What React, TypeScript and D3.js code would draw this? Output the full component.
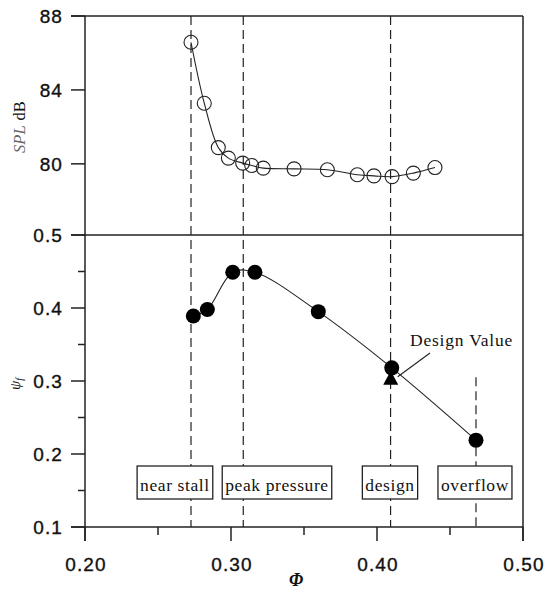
import React, { useLayoutEffect, useRef, useState } from "react";
import { scaleLinear, line, curveCatmullRom } from "d3";

// flow coefficient Φ and sound pressure level (upper panel)
const splPhi = [0.2726, 0.2817, 0.2913, 0.2982, 0.308, 0.3142, 0.3221, 0.3432, 0.366, 0.3865, 0.3979, 0.4103, 0.4249, 0.4397];
const splDb = [86.58, 83.28, 80.88, 80.31, 80.04, 79.91, 79.77, 79.73, 79.68, 79.41, 79.35, 79.31, 79.5, 79.8];

// pressure coefficient ψf (lower panel)
const psiPhi = [0.2742, 0.2838, 0.3012, 0.3164, 0.3598, 0.4101, 0.4678];
const psiVal = [0.389, 0.398, 0.449, 0.449, 0.395, 0.318, 0.219];

const designPhi = 0.4094;
const designPsi = 0.303;

// operating regimes
const regimeNames = ["near stall", "peak pressure", "design", "overflow"];
const regimePhi = [0.2726, 0.3084, 0.4093, 0.4678];
const regimeLabelPhi = [0.2616, 0.3315, 0.4089, 0.4671];
const overflowTopPsi = 0.305;

const phiTicks = [0.2, 0.3, 0.4, 0.5];
const phiMinor = [0.25, 0.35, 0.45];
const splTicks = [88, 84, 80];
const psiTicks = [0.5, 0.4, 0.3, 0.2, 0.1];
const psiMinor = [0.45, 0.35, 0.25, 0.15];

const sans = "'Liberation Sans', Arial, sans-serif";
const serif = "'Liberation Serif', 'Times New Roman', serif";
const ink = "#222";

const LabelBox = ({ x, label }: { x: number; label: string }) => {
  const ref = useRef<SVGTextElement>(null);
  const [w, setW] = useState(60);
  useLayoutEffect(() => {
    if (ref.current) setW(ref.current.getComputedTextLength());
  }, [label]);
  const pad = 3;
  return (
    <g>
      <rect x={x - w / 2 - pad} y={466} width={w + pad * 2} height={33} fill="#fff" stroke={ink} strokeWidth={1.3} />
      <text ref={ref} x={x} y={491} textAnchor="middle" fontFamily={serif} fontSize={17.5} letterSpacing={0.6} fill="#111">
        {label}
      </text>
    </g>
  );
};

export default function App() {
  const left = 85, right = 523, top = 16, mid = 235, bottom = 527;
  const x = scaleLinear().domain([0.2, 0.5]).range([left, right]);
  const ySpl = scaleLinear().domain([76.15, 88]).range([mid, top]);
  const yPsi = scaleLinear().domain([0.1, 0.5]).range([bottom, mid]);

  const splLine = line<number>()
    .x((d, i) => x(splPhi[i]))
    .y((d) => ySpl(d))
    .curve(curveCatmullRom);
  const psiLine = line<number>()
    .x((d, i) => x(psiPhi[i]))
    .y((d) => yPsi(d))
    .curve(curveCatmullRom);

  const dx = x(designPhi), dy = yPsi(designPsi);
  const tickText = { fontFamily: sans, fontSize: 19, letterSpacing: 1.1, fill: "#111", stroke: "#111", strokeWidth: 0.35 };

  return (
    <svg width={545} height={591} style={{ position: "absolute", left: 0, top: 0, background: "#fff" }}>
      {/* regime dashed lines */}
      {regimePhi.map((p, i) => (
        <line
          key={"r" + i}
          x1={x(p)}
          x2={x(p)}
          y1={i === 3 ? yPsi(overflowTopPsi) : top}
          y2={bottom}
          stroke={ink}
          strokeWidth={1.2}
          strokeDasharray="9,5"
        />
      ))}

      {/* frame */}
      <g stroke={ink} strokeWidth={1.5} fill="none">
        <line x1={71} x2={right} y1={top} y2={top} />
        <line x1={71} x2={right} y1={mid} y2={mid} />
        <line x1={71} x2={right} y1={bottom} y2={bottom} />
        <line x1={left} x2={left} y1={top} y2={541} />
        <line x1={right} x2={right} y1={top} y2={541} />
      </g>

      {/* y ticks */}
      {splTicks.map((t) => (
        <g key={"s" + t}>
          <line x1={71} x2={left} y1={ySpl(t)} y2={ySpl(t)} stroke={ink} strokeWidth={1.5} />
          <text x={63} y={ySpl(t)} dy="0.36em" textAnchor="end" {...tickText}>
            {t}
          </text>
        </g>
      ))}
      {psiTicks.map((t) => (
        <g key={"p" + t}>
          <line x1={71} x2={left} y1={yPsi(t)} y2={yPsi(t)} stroke={ink} strokeWidth={1.5} />
          <text x={63} y={yPsi(t)} dy="0.36em" textAnchor="end" {...tickText}>
            {t.toFixed(1)}
          </text>
        </g>
      ))}
      {psiMinor.map((t) => (
        <line key={"pm" + t} x1={78} x2={left} y1={yPsi(t)} y2={yPsi(t)} stroke={ink} strokeWidth={1.5} />
      ))}

      {/* x ticks */}
      {phiTicks.map((t) => (
        <g key={"x" + t}>
          <line x1={x(t)} x2={x(t)} y1={bottom} y2={541} stroke={ink} strokeWidth={1.5} />
          <text x={x(t) + 1} y={571} textAnchor="middle" {...tickText}>
            {t.toFixed(2)}
          </text>
        </g>
      ))}
      {phiMinor.map((t) => (
        <line key={"xm" + t} x1={x(t)} x2={x(t)} y1={bottom} y2={535} stroke={ink} strokeWidth={1.5} />
      ))}

      {/* axis titles */}
      <text transform="translate(25,127) rotate(-90)" textAnchor="middle" fontFamily={serif} fontSize={16.5} fill="#111">
        <tspan fontStyle="italic" fill="#666">SPL</tspan>
        <tspan dx={5}>dB</tspan>
      </text>
      <text transform="translate(20,384) rotate(-90)" textAnchor="middle" fontFamily={serif} fontSize={15} fontStyle="italic" fill="#111">
        ψ<tspan fontSize={10} dy={3}>f</tspan>
      </text>
      <text x={296} y={586} textAnchor="middle" fontFamily={serif} fontSize={18} fontStyle="italic" fontWeight="bold" fill="#111">
        Φ
      </text>

      {/* upper series */}
      <path d={splLine(splDb) || ""} fill="none" stroke={ink} strokeWidth={1.1} />
      {splDb.map((d, i) => (
        <circle key={"c" + i} cx={x(splPhi[i])} cy={ySpl(d)} r={7} fill="none" stroke={ink} strokeWidth={1.1} />
      ))}

      {/* lower series */}
      <path d={psiLine(psiVal) || ""} fill="none" stroke={ink} strokeWidth={1.1} />
      {psiVal.map((d, i) => (
        <circle key={"f" + i} cx={x(psiPhi[i])} cy={yPsi(d)} r={7.5} fill="#000" />
      ))}
      <path d={`M${dx},${dy - 8}L${dx + 7.5},${dy + 6}L${dx - 7.5},${dy + 6}Z`} fill="#000" />

      {/* design value annotation */}
      <line x1={430} y1={353} x2={dx + 7} y2={dy - 2} stroke={ink} strokeWidth={1.1} />
      <text x={410} y={346} fontFamily={serif} fontSize={17.5} letterSpacing={0.8} fill="#111">
        Design Value
      </text>

      {/* regime labels */}
      {regimeNames.map((n, i) => (
        <LabelBox key={n} x={x(regimeLabelPhi[i])} label={n} />
      ))}
    </svg>
  );
}
